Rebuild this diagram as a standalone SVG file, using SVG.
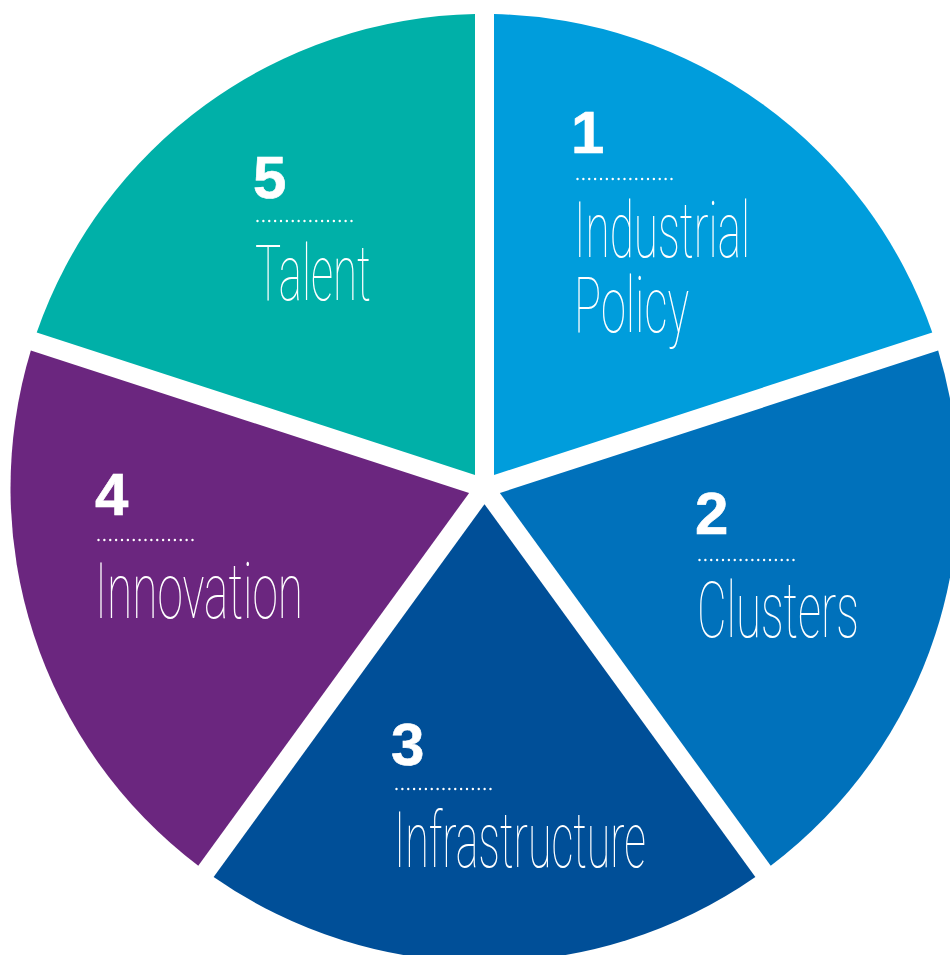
<svg xmlns="http://www.w3.org/2000/svg" width="950" height="955" viewBox="0 0 950 955">
  <style>
    .num { font-family: "Liberation Sans", Arial, sans-serif; font-weight: 700; font-size: 60px; fill: #ffffff; stroke: #ffffff; stroke-width: 0.6; }
    .lbl { font-family: Roboto, "Open Sans", "DejaVu Sans", sans-serif; font-weight: 100; font-size: 77px; fill: #ffffff; }
    .dots { stroke: #ffffff; stroke-width: 2.4; stroke-linecap: round; stroke-dasharray: 0 5.875; fill: none; }
  </style>
  <rect width="950" height="955" fill="#ffffff"/>

  <!-- pie: centre (484.5, 488), radius 474, white gaps 19px wide -->
  <g id="slice-1">
    <path d="M494,474.93 L494,14.1 A474,474 0 0 1 932.27,332.52 Z" fill="#009ddc"/>
    <text class="num" x="571" y="153">1</text>
    <line class="dots" x1="577.5" y1="179" x2="672" y2="179"/>
    <text class="lbl" x="574" y="257" textLength="176" lengthAdjust="spacingAndGlyphs">Industrial</text>
    <text class="lbl" x="574" y="332" textLength="115" lengthAdjust="spacingAndGlyphs">Policy</text>
  </g>

  <g id="slice-2">
    <path d="M499.87,492.99 L938.15,350.59 A474,474 0 0 1 770.74,865.81 Z" fill="#0071bb"/>
    <text class="num" x="695" y="534">2</text>
    <line class="dots" x1="699.5" y1="560" x2="794" y2="560"/>
    <text class="lbl" x="697" y="637" textLength="162" lengthAdjust="spacingAndGlyphs">Clusters</text>
  </g>

  <g id="slice-3">
    <path d="M484.5,504.16 L755.37,876.98 A474,474 0 0 1 213.63,876.98 Z" fill="#004f98"/>
    <text class="num" x="391" y="765">3</text>
    <line class="dots" x1="396.5" y1="789" x2="491" y2="789"/>
    <text class="lbl" x="394" y="867" textLength="252" lengthAdjust="spacingAndGlyphs">Infrastructure</text>
  </g>

  <g id="slice-4">
    <path d="M469.13,492.99 L198.26,865.81 A474,474 0 0 1 30.85,350.59 Z" fill="#6b267f"/>
    <text class="num" x="95" y="515">4</text>
    <line class="dots" x1="98.5" y1="540" x2="193" y2="540"/>
    <text class="lbl" x="95" y="618" textLength="208" lengthAdjust="spacingAndGlyphs">Innovation</text>
  </g>

  <g id="slice-5">
    <path d="M475,474.93 L36.73,332.52 A474,474 0 0 1 475,14.1 Z" fill="#00b0a8"/>
    <text class="num" x="253" y="198">5</text>
    <line class="dots" x1="257.5" y1="221" x2="352" y2="221"/>
    <text class="lbl" x="255" y="300" textLength="116" lengthAdjust="spacingAndGlyphs">Talent</text>
  </g>

  <g id="connectors"/>
</svg>
